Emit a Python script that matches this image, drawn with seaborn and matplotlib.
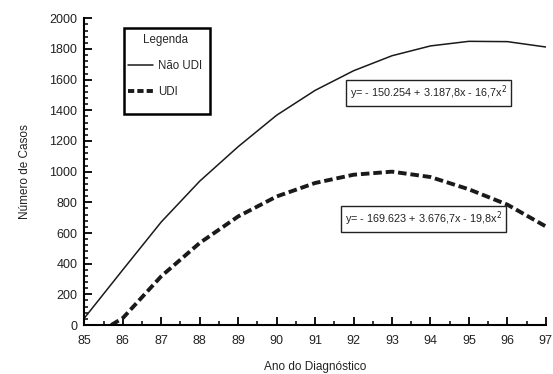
import matplotlib
matplotlib.use("Agg")
import matplotlib.pyplot as plt
import seaborn as sns
import pandas as pd
from matplotlib.ticker import MultipleLocator
from matplotlib.lines import Line2D
from matplotlib.patches import Rectangle

years_nao = [85, 86, 87, 88, 89, 90, 91, 92, 93, 94, 95, 96, 97]
nao_udi = [45, 360, 672, 938, 1163, 1368, 1530, 1658, 1756, 1820, 1850, 1848, 1813]
years_udi = [85.7, 86, 87, 88, 89, 90, 91, 92, 93, 94, 95, 96, 97]
udi = [0, 45, 318, 535, 708, 838, 926, 980, 1000, 965, 885, 785, 643]
series_names = ["Não UDI", "UDI"]
eq1 = "y= - 150.254 + 3.187,8x - 16,7x$^2$"
eq2 = "y= - 169.623 + 3.676,7x - 19,8x$^2$"

df = pd.DataFrame({
    "Ano": years_nao + years_udi,
    "Casos": nao_udi + udi,
    "Grupo": [series_names[0]] * len(years_nao) + [series_names[1]] * len(years_udi),
})

sns.set_style("ticks")
plt.rcParams['font.family'] = ['Liberation Sans', 'DejaVu Sans']

fig = plt.figure(figsize=(5.53, 3.74), dpi=100)
ax = fig.add_axes([0.1525, 0.131, 0.8345, 0.82])

sns.lineplot(data=df, x="Ano", y="Casos", hue="Grupo", style="Grupo",
             palette={series_names[0]: "#1a1a1a", series_names[1]: "#1a1a1a"},
             dashes={series_names[0]: "", series_names[1]: (2.2, 1.0)},
             size="Grupo", sizes={series_names[0]: 1.1, series_names[1]: 2.8},
             ax=ax, legend=False)

ax.set_xlim(85, 97)
ax.set_ylim(0, 2000)
ax.xaxis.set_major_locator(MultipleLocator(1))
ax.xaxis.set_minor_locator(MultipleLocator(0.5))
ax.yaxis.set_major_locator(MultipleLocator(200))
ax.yaxis.set_minor_locator(MultipleLocator(40))
ax.tick_params(axis='both', which='major', direction='in', length=6, width=1.3,
               labelsize=9, color='black', labelcolor='#222222')
ax.tick_params(axis='x', which='major', pad=7)
ax.tick_params(axis='y', which='major', pad=5)
ax.tick_params(axis='both', which='minor', direction='in', length=3, width=1.1, color='black')
for s in ['top', 'right']:
    ax.spines[s].set_visible(False)
for s in ['left', 'bottom']:
    ax.spines[s].set_linewidth(1.5)
    ax.spines[s].set_color('black')

ax.set_xlabel("Ano do Diagnóstico", fontsize=8.5, labelpad=10, color='#222222')
ax.set_ylabel("Número de Casos", fontsize=8.5, labelpad=13, color='#222222')

# legend box
ax.add_patch(Rectangle((0.086, 0.689), 0.186, 0.281, transform=ax.transAxes,
                       fill=True, fc='white', ec='black', lw=1.8, zorder=4))
handles = [Line2D([], [], color='#1a1a1a', lw=1.1),
           Line2D([], [], color='#1a1a1a', lw=2.8, dashes=(1.6, 0.8))]
leg = ax.legend(handles, series_names, title="Legenda", loc='upper left',
                bbox_to_anchor=(0.094, 0.950), borderaxespad=0, borderpad=0,
                frameon=False, fontsize=8.3, title_fontsize=8.3, handlelength=2.2,
                labelspacing=1.25, handletextpad=0.45)
leg.set_zorder(5)
leg._legend_box.align = "center"
leg._legend_box.sep = 10

bbox = dict(boxstyle='square,pad=0.35', fc='white', ec='#222222', lw=1.0)
ax.text(93.95, 1513, eq1, ha='center', va='center', fontsize=7.8, bbox=bbox, color='#222222')
ax.text(93.82, 691, eq2, ha='center', va='center', fontsize=7.8, bbox=bbox, color='#222222')

fig.savefig("out.png", dpi=100)
